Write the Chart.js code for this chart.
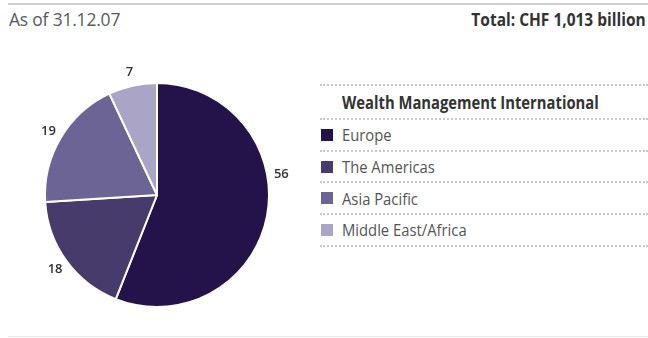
<!DOCTYPE html>
<html lang="en">
<head>
    <meta charset="UTF-8">
    <title>Wealth Management International</title>
    <script src="https://cdn.jsdelivr.net/npm/chart.js"></script>
    <style>
        body { margin: 0; width: 648px; height: 338px; background: #fff; position: relative; overflow: hidden;
               font-family: "Open Sans", "Liberation Sans", sans-serif; }
        .topline { position: absolute; left: 8px; right: 0; top: 3px; border-top: 2px solid #cfcfcf; }
        .bottomline { position: absolute; left: 8px; right: 0; top: 336px; border-top: 1px solid #e6e6e6; }
        .asof { position: absolute; left: 9px; top: 7px; font-size: 18px; color: #5a5a5a;
                transform: scaleX(0.97); transform-origin: left; letter-spacing: -0.2px; }
        .total { position: absolute; right: 2px; top: 7px; font-size: 18px; font-weight: bold; color: #333;
                 transform: scaleX(0.86); transform-origin: right; }
        #pieBox { position: absolute; left: 0; top: 50px; width: 310px; height: 290px; }
        .legend { position: absolute; left: 320px; top: 84px; width: 328px; }
        .legend .row { height: 29.7px; border-bottom: 2px dotted #c8c8c8; display: flex; align-items: center;
                       font-size: 17px; color: #555; }
        .legend .head { border-top: 2px dotted #c8c8c8; height: 32px; padding-left: 22px; font-weight: bold; color: #333; }
        .legend .txt { display: inline-block; transform: scaleX(0.87); transform-origin: left; white-space: nowrap; }
        .legend .sw { width: 12px; height: 12px; margin: 0 9px 0 1px; flex: none; }
    </style>
</head>
<body>
    <div class="topline"></div>
    <div class="asof">As of 31.12.07</div>
    <div class="total">Total: CHF 1,013 billion</div>

    <div id="pieBox"><canvas id="regionPie"></canvas></div>

    <div class="legend" id="legend">
        <div class="row head"><span class="txt">Wealth Management International</span></div>
    </div>
    <div class="bottomline"></div>

<script>
    // Invested assets by region, in %
    const regions = ['Europe', 'The Americas', 'Asia Pacific', 'Middle East/Africa'];
    const shares = [56, 18, 19, 7];
    const sliceColors = ['#24124a', '#463b6b', '#6c6494', '#aaa5c6'];

    // legend rows
    const legend = document.getElementById('legend');
    regions.forEach((name, i) => {
        const row = document.createElement('div');
        row.className = 'row';
        row.innerHTML = '<span class="sw" style="background:' + sliceColors[i] + '"></span><span class="txt">' + name + '</span>';
        legend.appendChild(row);
    });

    // value labels just outside the pie
    const outsideLabels = {
        id: 'outsideLabels',
        afterDatasetsDraw(chart) {
            const ctx = chart.ctx;
            const meta = chart.getDatasetMeta(0);
            ctx.save();
            ctx.font = '600 13px "Open Sans", sans-serif';
            ctx.fillStyle = '#333';
            ctx.textAlign = 'center';
            ctx.textBaseline = 'middle';
            meta.data.forEach((arc, i) => {
                const p = arc.getProps(['x', 'y', 'startAngle', 'endAngle', 'outerRadius']);
                let a = (p.startAngle + p.endAngle) / 2;
                // the big slice carries its label higher up on the right side
                if (i === 0) a = p.startAngle + (p.endAngle - p.startAngle) * 0.4;
                const r = p.outerRadius + 14;
                ctx.fillText(String(chart.data.datasets[0].data[i]), p.x + Math.cos(a) * r, p.y + Math.sin(a) * r);
            });
            ctx.restore();
        }
    };

    new Chart(document.getElementById('regionPie'), {
        type: 'pie',
        data: {
            labels: regions,
            datasets: [{
                data: shares,
                backgroundColor: sliceColors,
                borderColor: '#ffffff',
                borderWidth: 2
            }]
        },
        options: {
            responsive: true,
            maintainAspectRatio: false,
            animation: false,
            layout: { padding: { left: 44, right: 40, top: 32, bottom: 32 } },
            plugins: { legend: { display: false }, tooltip: { enabled: false } }
        },
        plugins: [outsideLabels]
    });
</script>
</body>
</html>
